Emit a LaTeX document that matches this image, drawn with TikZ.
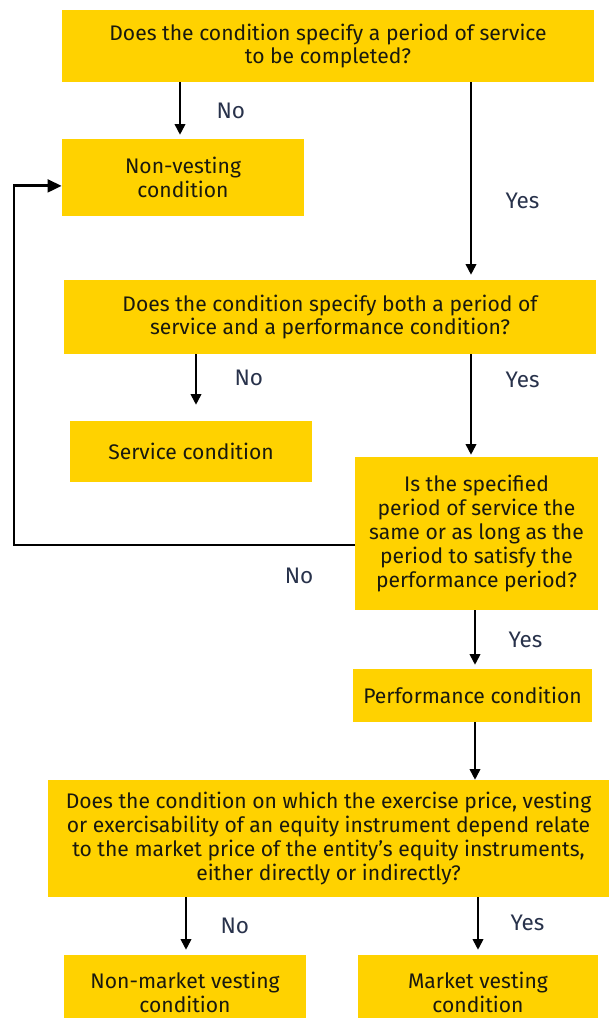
\documentclass[tikz,border=0pt]{standalone}
\usepackage{fontspec}
\setmainfont{Fira Sans}
\usetikzlibrary{positioning, arrows.meta}
\definecolor{yellowBox}{RGB}{255, 210, 0}
\definecolor{labelColor}{RGB}{40, 50, 75}
\definecolor{textColor}{RGB}{25, 25, 15}

\begin{document}
\begin{tikzpicture}[
        x=0.025cm, y=-0.025cm,
        condition/.style={
            rectangle,
            fill=yellowBox,
            inner sep=0pt,
            align=center,
            text=textColor,
            font=\fontsize{15}{17}\selectfont
        },
        answer/.style={
            text=labelColor,
            font=\fontsize{16}{18}\selectfont
        },
        conector/.style={
            -{Triangle[length=7.5pt, width=7.5pt]},
            line width=1.2pt
        }
    ]
    \useasboundingbox (0,0) rectangle (610,1018);

    % boxes
    \node[condition, minimum width=13.3cm, minimum height=1.8cm] (period) at (328,46)
        {Does the condition specify a period of service\\to be completed?};
    \node[condition, minimum width=6.05cm, minimum height=1.925cm] (nonvest) at (183,177.5)
        {Non-vesting\\condition};
    \node[condition, minimum width=13.3cm, minimum height=1.85cm] (both) at (330,317)
        {Does the condition specify both a period of\\service and a performance condition?};
    \node[condition, minimum width=6.05cm, minimum height=1.525cm] (service) at (191,451.5)
        {Service condition};
    \node[condition, minimum width=6.075cm, minimum height=3.825cm] (same) at (476.5,533.5)
        {Is the specified\\period of service the\\same or as long as the\\period to satisfy the\\performance period?};
    \node[condition, minimum width=5.975cm, minimum height=1.325cm] (perf) at (472.5,695.5)
        {Performance condition};
    \node[condition, minimum width=14.025cm, minimum height=2.925cm] (market) at (328.5,838.5)
        {Does the condition on which the exercise price, vesting\\or exercisability of an equity instrument depend relate\\to the market price of the entity's equity instruments,\\either directly or indirectly?};
    \node[condition, minimum width=6.05cm, minimum height=1.875cm] (nonmkt) at (185,992.5)
        {Non-market vesting\\condition};
    \node[condition, minimum width=6.0cm, minimum height=1.875cm] (mkt) at (478,992.5)
        {Market vesting\\condition};

    % arrow columns
    \coordinate (colA) at (180,0);
    \coordinate (colB) at (471,0);
    \coordinate (colC) at (196,0);
    \coordinate (colD) at (475,0);
    \coordinate (colE) at (186,0);
    \coordinate (colF) at (478,0);
    \coordinate (loopback) at (14,545);

    \draw[conector, shorten >=0.1cm] (period.south -| colA) -- (nonvest.north -| colA)
        node[answer, midway, right=0.775cm] (no1) {No};
    \draw[conector, shorten >=0.125cm] (period.south -| colB) -- (both.north -| colB)
        node[answer, pos=0.6, right=0.725cm] (yes1) {Yes};
    \draw[conector, shorten >=0.4cm] (both.south -| colC) -- (service.north -| colC)
        node[answer, pos=0.35, right=0.825cm] (no2) {No};
    \draw[conector, shorten >=0.05cm] (both.south -| colB) -- (same.north -| colB)
        node[answer, pos=0.25, right=0.73cm] (yes2) {Yes};
    \draw[conector, line width=2pt, -{Triangle[length=10pt, width=9pt]}]
        (same.west |- loopback) -- (loopback) |- ([yshift=-0.21cm]nonvest.west);
    \node[answer] (no3) at (299,576) {No};
    \draw[conector, shorten >=0.1cm] (same.south -| colD) -- (perf.north -| colD)
        node[answer, midway, right=0.7cm] (yes3) {Yes};
    \draw[conector] (perf.south -| colD) -- (market.north -| colD);
    \draw[conector, shorten >=0.125cm] (market.south -| colE) -- (nonmkt.north -| colE)
        node[answer, midway, right=0.725cm] (no4) {No};
    \draw[conector, shorten >=0.125cm] (market.south -| colF) -- (mkt.north -| colF)
        node[answer, pos=0.45, right=0.675cm] (yes4) {Yes};

\end{tikzpicture}
\end{document}
